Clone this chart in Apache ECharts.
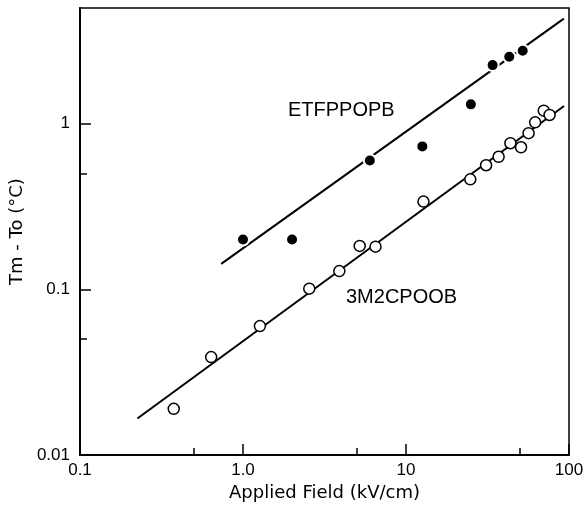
<!DOCTYPE html>
<html>
<head>
<meta charset="utf-8">
<script src="https://cdn.jsdelivr.net/npm/echarts@6/dist/echarts.min.js"></script>
<style>
  html, body { margin: 0; padding: 0; background: #fff; }
  #main { width: 587px; height: 508px; }
</style>
</head>
<body>
<div id="main"></div>
<script>
// ETFPPOPB (filled dots)
var etfField = [1.0, 2.0, 6.0, 12.6, 25, 34, 43, 52];
var etfDelta = [0.20, 0.20, 0.60, 0.73, 1.31, 2.26, 2.54, 2.76];
// 3M2CPOOB (open circles)
var m2cField = [0.376, 0.638, 1.27, 2.55, 3.9, 5.2, 6.5, 12.8, 24.8, 31, 37, 43.7, 50.8, 56.5, 62, 70, 76];
var m2cDelta = [0.019, 0.039, 0.06, 0.101, 0.129, 0.183, 0.181, 0.339, 0.462, 0.562, 0.632, 0.763, 0.721, 0.877, 1.02, 1.2, 1.13];
// fitted lines, end points as drawn
var etfFit = [[0.735, 0.1426], [93, 4.31]];
var m2cFit = [[0.225, 0.0166], [93.3, 1.28]];
// axes
var xRange = [0.1, 100];
var yRange = [0.01, 5];
var xMajor = [0.1, 1, 10, 100];
var yMajor = [0.01, 0.1, 1];
var xMinor = [0.5, 5, 50];
var yMinor = [0.05, 0.5];
var xLabels = { '0.1': '0.1', '1': '1.0', '10': '10', '100': '100' };
var yLabels = { '0.01': '0.01', '0.1': '0.1', '1': '1' };

function pairs(xs, ys) {
  return xs.map(function (x, i) { return [x, ys[i]]; });
}

var font = 'Liberation Sans';
var nameFont = 'DejaVu Sans';

// second, bare axis that only carries the short ticks at the 5s
function minorAxis(range, ticks, pos) {
  return {
    type: 'log', logBase: 10, min: range[0], max: range[1], position: pos,
    axisLine: { show: false },
    axisLabel: { show: false },
    splitLine: { show: false },
    axisTick: { show: true, inside: true, length: 7, customValues: ticks,
      lineStyle: { color: '#000', width: 1.5 } }
  };
}

var chart = echarts.init(document.getElementById('main'));
var option = {
  backgroundColor: '#fff',
  animation: false,
  grid: {
    left: 78, top: 8, right: 18, bottom: 53,
    show: true, borderColor: '#000', borderWidth: 1.5
  },
  xAxis: [{
    type: 'log', logBase: 10, min: xRange[0], max: xRange[1], position: 'bottom',
    name: 'Applied Field (kV/cm)', nameLocation: 'middle', nameGap: 29,
    nameTextStyle: { fontFamily: nameFont, fontSize: 18, color: '#000' },
    axisLine: { show: true, lineStyle: { color: '#000', width: 2 } },
    axisTick: { show: true, inside: true, length: 11, customValues: xMajor,
      lineStyle: { color: '#000', width: 1.5 } },
    axisLabel: {
      fontFamily: font, fontSize: 17, color: '#000', margin: 7,
      formatter: function (v) { return xLabels[String(+v.toPrecision(6))] || ''; }
    },
    splitLine: { show: false }
  }, minorAxis(xRange, xMinor, 'bottom')],
  yAxis: [{
    type: 'log', logBase: 10, min: yRange[0], max: yRange[1], position: 'left',
    name: 'Tm - To (°C)', nameLocation: 'middle', nameGap: 46,
    nameTextStyle: { fontFamily: nameFont, fontSize: 18, color: '#000' },
    axisLine: { show: true, lineStyle: { color: '#000', width: 2 } },
    axisTick: { show: true, inside: true, length: 11, customValues: yMajor,
      lineStyle: { color: '#000', width: 1.5 } },
    axisLabel: {
      fontFamily: font, fontSize: 17, color: '#000', margin: 10,
      formatter: function (v) { return yLabels[String(+v.toPrecision(6))] || ''; }
    },
    splitLine: { show: false }
  }, minorAxis(yRange, yMinor, 'left')],
  series: [
    {
      type: 'line', data: etfFit, showSymbol: false, z: 2,
      lineStyle: { color: '#000', width: 2 }
    },
    {
      type: 'line', data: m2cFit, showSymbol: false, z: 2,
      lineStyle: { color: '#000', width: 2 }
    },
    {
      type: 'scatter', data: pairs(etfField, etfDelta), symbolSize: 12, z: 3,
      itemStyle: { color: '#000', borderColor: '#fff', borderWidth: 2, opacity: 1 }
    },
    {
      type: 'scatter', data: pairs(m2cField, m2cDelta), symbolSize: 11, z: 3,
      itemStyle: { color: '#fff', borderColor: '#000', borderWidth: 1.5, opacity: 1 }
    }
  ],
  graphic: [
    {
      type: 'text', left: 288, top: 100,
      style: { text: 'ETFPPOPB', fontFamily: font, fontSize: 20, fill: '#000' }
    },
    {
      type: 'text', left: 346, top: 287,
      style: { text: '3M2CPOOB', fontFamily: font, fontSize: 20, fill: '#000' }
    }
  ]
};
chart.setOption(option);
</script>
</body>
</html>
